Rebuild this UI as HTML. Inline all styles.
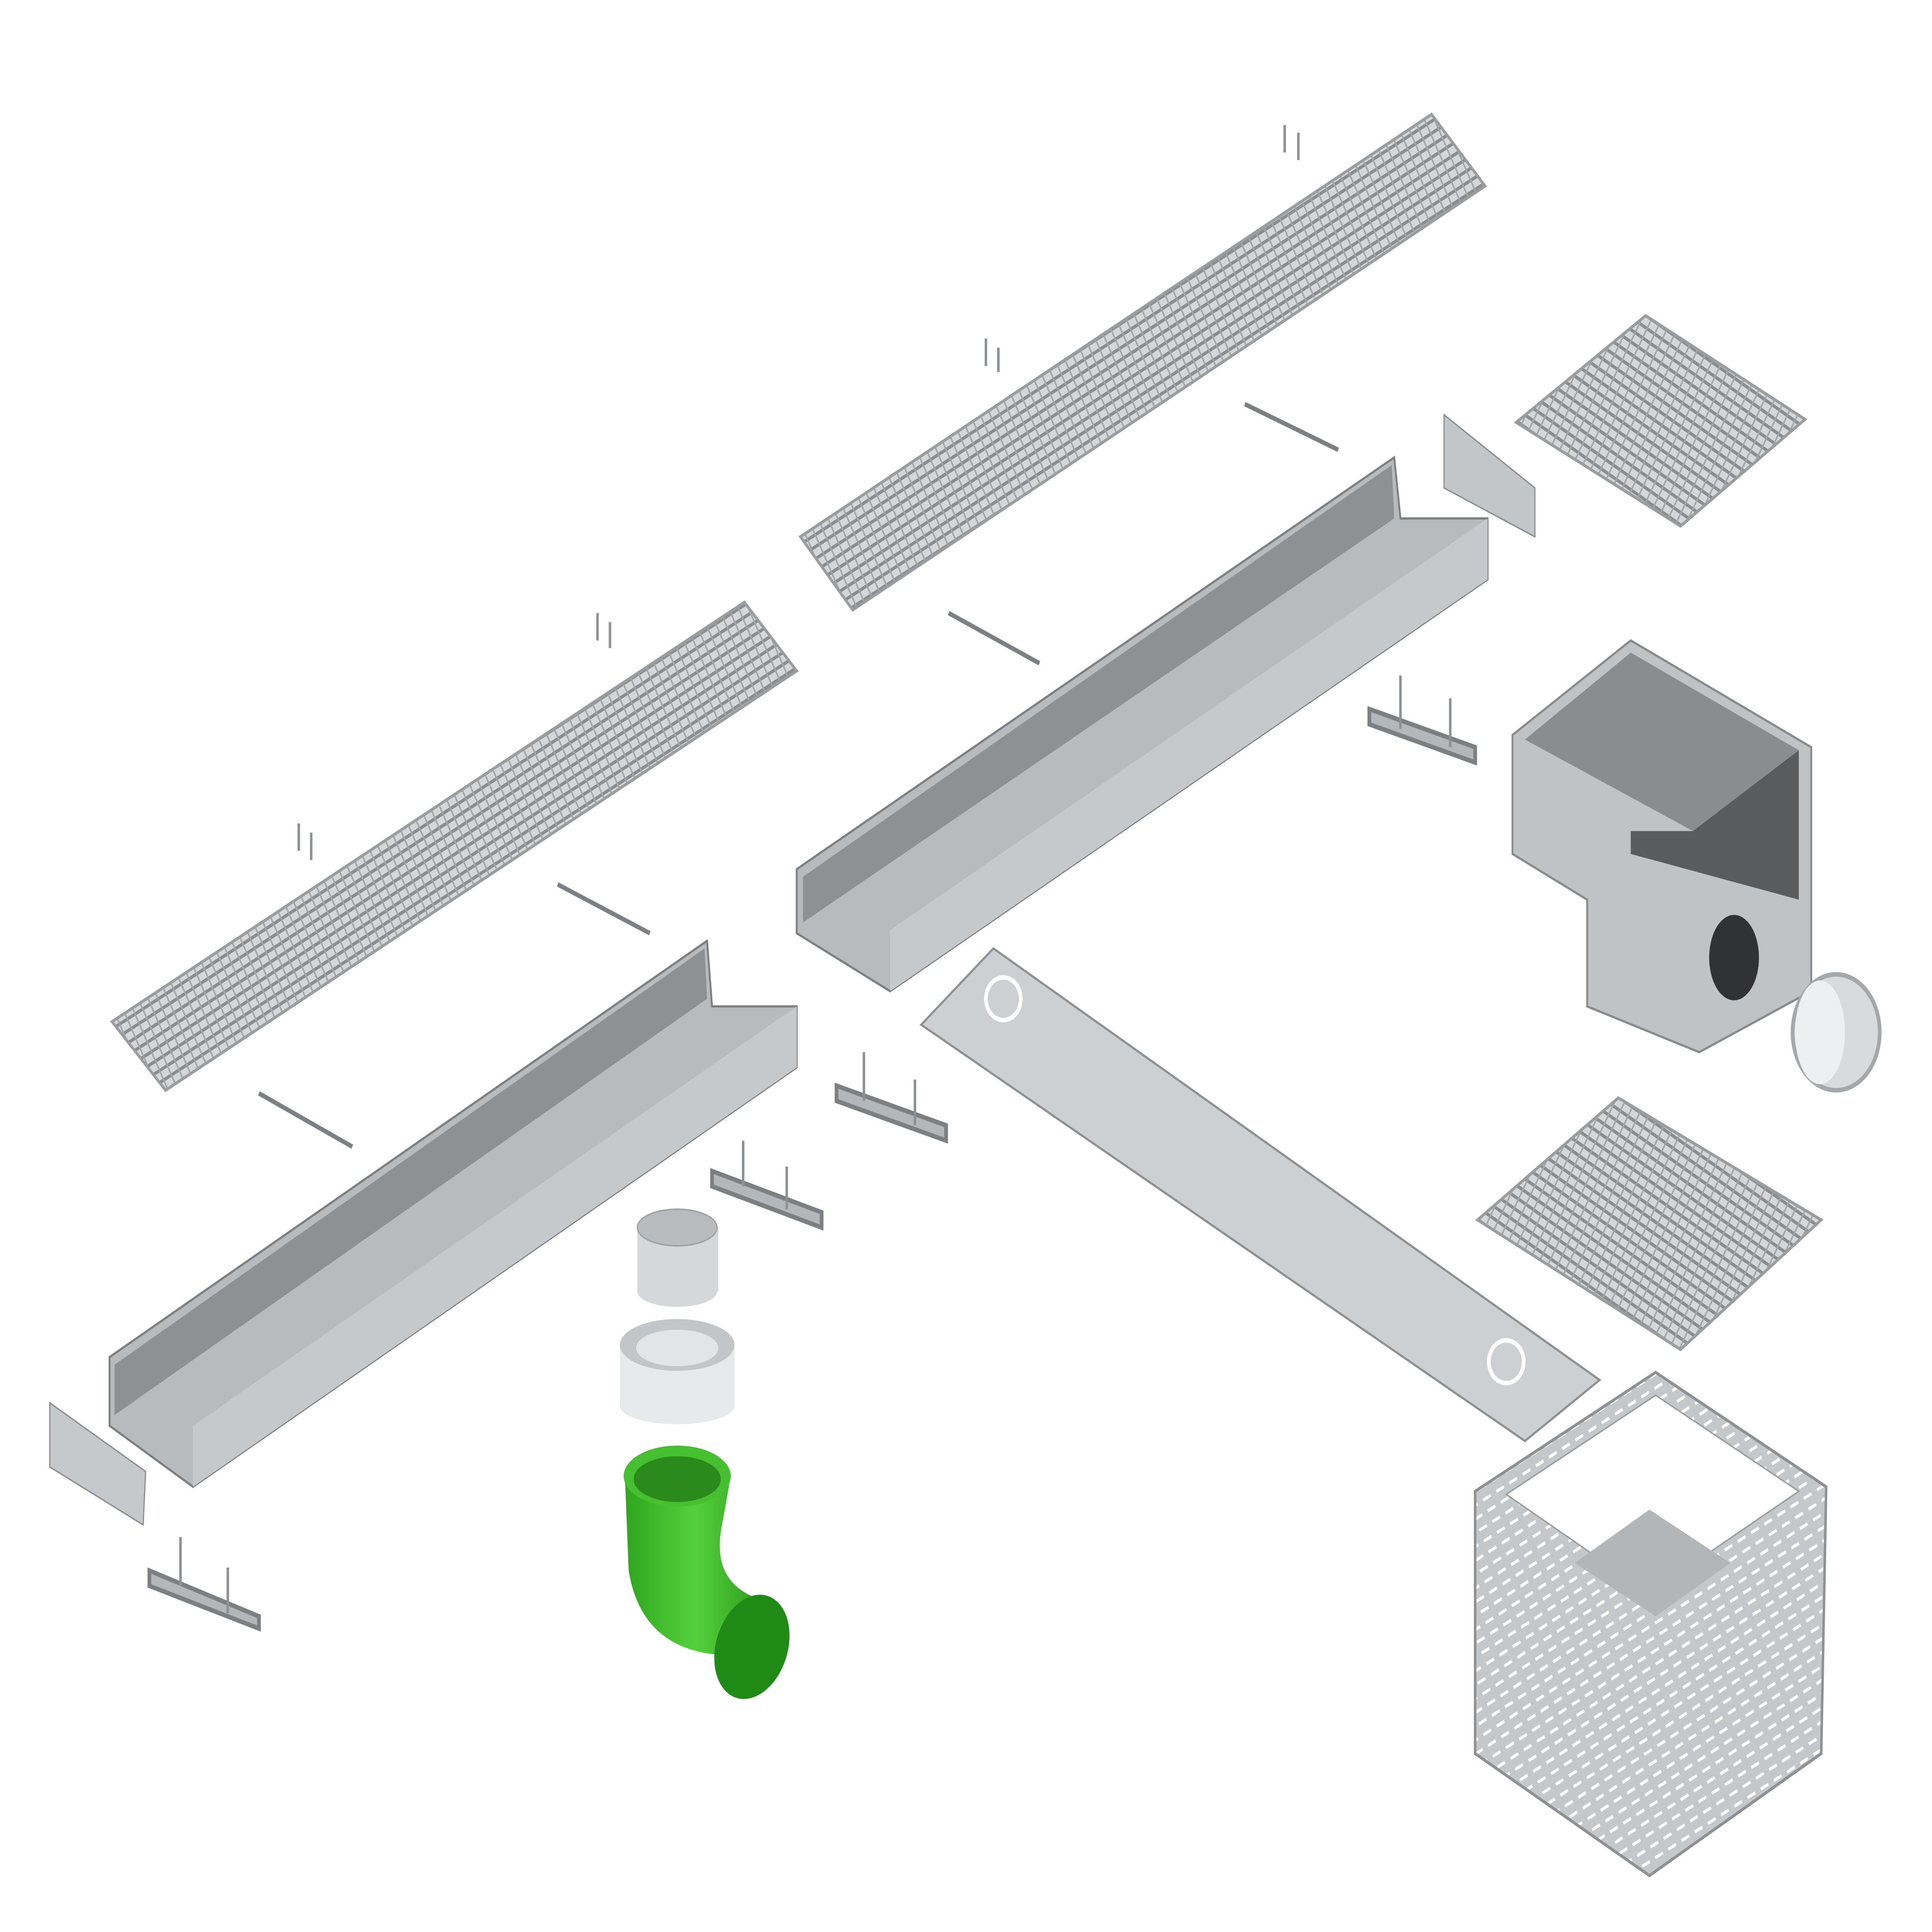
<!DOCTYPE html>
<html><head><meta charset="utf-8"><style>
html,body{margin:0;padding:0;background:#fff;width:100vw;height:100vh;overflow:hidden;}
svg{display:block;position:absolute;left:0;top:0;width:100vw;height:100vh;}
</style></head><body>
<svg viewBox="0 0 1552 1267" preserveAspectRatio="none" xmlns="http://www.w3.org/2000/svg">
<defs>
<pattern id="gr" width="7" height="7" patternUnits="userSpaceOnUse" patternTransform="rotate(-28)">
<rect width="7" height="7" fill="#d4d6d8"/>
<rect width="7" height="2.2" fill="#8a8d90"/>
<rect width="1.2" height="7" fill="#a3a6a9"/>
</pattern>
<pattern id="gr3" width="7" height="7" patternUnits="userSpaceOnUse" patternTransform="rotate(30)">
<rect width="7" height="7" fill="#d4d6d8"/>
<rect width="7" height="2.2" fill="#8a8d90"/>
<rect width="1.2" height="7" fill="#a3a6a9"/>
</pattern>
<pattern id="perf" width="12" height="8" patternUnits="userSpaceOnUse" patternTransform="rotate(-28)">
<rect width="12" height="8" fill="#c5c8ca"/>
<rect x="2" y="3" width="7" height="2" fill="#fff"/>
</pattern>
<linearGradient id="grn" x1="0" y1="0" x2="1" y2="0">
<stop offset="0" stop-color="#2fa61f"/><stop offset="0.5" stop-color="#55d03c"/><stop offset="1" stop-color="#2b9a1c"/>
</linearGradient>
</defs>
<polygon points="643,352 1150,75 1193,122 685,400" fill="url(#gr)" stroke="#9a9da0" stroke-width="2"/>
<polygon points="90,670 598,395 640,440 133,715" fill="url(#gr)" stroke="#9a9da0" stroke-width="2"/>
<polygon points="1218,277 1322,207 1450,275 1350,345" fill="url(#gr3)" stroke="#9a9da0" stroke-width="2"/>
<polygon points="1187,800 1300,720 1463,800 1350,885" fill="url(#gr3)" stroke="#9a9da0" stroke-width="2"/>

<polygon points="640,570 1120,300 1125,340 1195,340 1195,380 715,650 640,612" fill="#b8bbbe" stroke="#7d8083" stroke-width="1.5"/>
<polygon points="645,575 1118,305 1120,340 645,605" fill="#8e9194"/>
<polygon points="715,610 1195,340 1195,380 715,650" fill="#c6c9cb"/>
<polygon points="88,890 568,617 572,660 640,660 640,700 155,975 88,935" fill="#b8bbbe" stroke="#7d8083" stroke-width="1.5"/>
<polygon points="92,895 566,622 568,655 92,928" fill="#8e9194"/>
<polygon points="155,935 640,660 640,700 155,975" fill="#c6c9cb"/>

<polygon points="740,672 798,622 1285,905 1225,945" fill="#cdd0d2" stroke="#8e9194" stroke-width="1.5"/>
<circle cx="806" cy="655" r="14" fill="none" stroke="#fff" stroke-width="3"/>
<circle cx="1210" cy="893" r="14" fill="none" stroke="#fff" stroke-width="3"/>

<polygon points="1215,482 1310,420 1455,490 1455,650 1365,690 1275,660 1275,590 1215,560" fill="#c0c3c5" stroke="#888b8e" stroke-width="1.5"/>
<polygon points="1225,485 1310,428 1445,492 1360,545" fill="#8a8d90"/>
<polygon points="1310,545 1360,545 1445,492 1445,590 1310,560" fill="#2d2f31" opacity="0.7"/>
<ellipse cx="1393" cy="628" rx="20" ry="28" fill="#303234"/>
<ellipse cx="1475" cy="677" rx="35" ry="38" fill="#d8dadc" stroke="#a5a8ab" stroke-width="3"/>
<ellipse cx="1462" cy="677" rx="20" ry="34" fill="#eeeff0"/>

<polygon points="1185,978 1330,900 1467,975 1463,1150 1325,1230 1185,1150" fill="url(#perf)" stroke="#8e9194" stroke-width="2"/>
<polygon points="1210,980 1330,915 1445,978 1325,1045" fill="#fff" stroke="#9a9da0"/>
<polygon points="1265,1025 1325,990 1390,1025 1330,1060" fill="#b3b6b8"/>

<polygon points="1160,272 1233,320 1233,352 1160,320" fill="#c3c6c8" stroke="#8e9194"/>
<polygon points="40,920 117,965 115,1000 40,962" fill="#c6c9cb" stroke="#8e9194"/>

<g stroke="#7d8083" stroke-width="3" fill="#b4b7b9">
<polygon points="1100,465 1185,490 1185,500 1100,475"/>
<polygon points="672,712 760,738 760,748 672,722"/>
<polygon points="572,768 660,795 660,805 572,778"/>
<polygon points="120,1030 208,1060 208,1068 120,1040"/>
<line x1="1000" y1="265" x2="1075" y2="295"/>
<line x1="762" y1="402" x2="835" y2="435"/>
<line x1="448" y1="580" x2="522" y2="612"/>
<line x1="208" y1="717" x2="283" y2="752"/>
</g>
<g stroke="#8e9194" stroke-width="2">
<line x1="1125" y1="443" x2="1125" y2="478"/><line x1="1165" y1="458" x2="1165" y2="490"/>
<line x1="694" y1="690" x2="694" y2="722"/><line x1="735" y1="708" x2="735" y2="738"/>
<line x1="597" y1="748" x2="597" y2="778"/><line x1="632" y1="765" x2="632" y2="793"/>
<line x1="145" y1="1008" x2="145" y2="1040"/><line x1="183" y1="1028" x2="183" y2="1058"/>
<line x1="1032" y1="82" x2="1032" y2="100"/><line x1="1043" y1="87" x2="1043" y2="105"/>
<line x1="792" y1="222" x2="792" y2="240"/><line x1="802" y1="228" x2="802" y2="244"/>
<line x1="480" y1="402" x2="480" y2="420"/><line x1="490" y1="408" x2="490" y2="425"/>
<line x1="240" y1="540" x2="240" y2="558"/><line x1="250" y1="546" x2="250" y2="564"/>
</g>

<rect x="512" y="805" width="65" height="42" fill="#d5d7d9"/>
<ellipse cx="544" cy="847" rx="32" ry="10" fill="#d5d7d9"/>
<ellipse cx="544" cy="805" rx="32" ry="12" fill="#b9bcbe" stroke="#9fa2a5"/>
<rect x="498" y="880" width="92" height="42" fill="#e8e9ea"/>
<ellipse cx="544" cy="922" rx="46" ry="12" fill="#e8e9ea"/>
<ellipse cx="544" cy="882" rx="46" ry="17" fill="#c3c6c8"/>
<ellipse cx="544" cy="884" rx="33" ry="12" fill="#e3e4e5"/>

<path d="M502,968 L505,1030 Q515,1080 575,1085 L615,1050 Q570,1040 580,1000 L587,968 Z" fill="url(#grn)"/>
<ellipse cx="544" cy="968" rx="43" ry="20" fill="#46c030"/>
<ellipse cx="544" cy="970" rx="35" ry="15" fill="#2a8a1b"/>
<ellipse cx="604" cy="1080" rx="28" ry="36" transform="rotate(30 604 1080)" fill="#1f8a15"/>
</svg>
</body></html>
